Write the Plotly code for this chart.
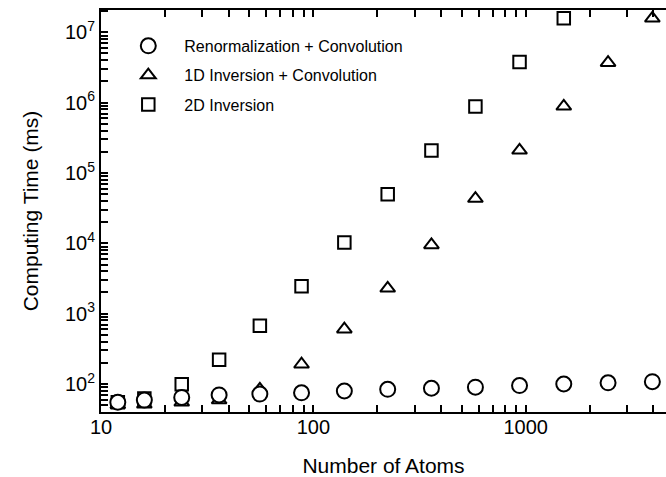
import math
import plotly.graph_objects as go

# Number of atoms in each system
atoms = [12, 16, 24, 36, 56, 88, 140, 224, 360, 580, 936, 1512, 2444, 3952]

# Computing time (ms) for each method
renorm_conv = [55, 59, 64.5, 70, 72, 75, 79.5, 84, 87, 90, 95, 100, 104, 108]
inv1d_conv = [50.7, 51.5, 55, 59, 84, 191, 601, 2290, 9500, 43200, 210000, 885000, 3.70e6, 1.58e7]
inv2d = [55, 62, 99, 222, 675, 2460, 10300, 49700, 208000, 881000, 3.78e6, 1.58e7]

FONT = "Liberation Sans, Arial, sans-serif"
X_RANGE = [1, 3.661]
Y_RANGE = [1.602, 7.317]


def log_ticks(lo, hi, label):
    """Tick positions at m x 10^k inside [10^lo, 10^hi]; only decades get a label."""
    vals, text = [], []
    for k in range(math.floor(lo), math.ceil(hi) + 1):
        for m in range(1, 10):
            v = m * 10 ** k
            if 10 ** lo <= v <= 10 ** hi:
                vals.append(v)
                text.append(label(k) if m == 1 else "")
    return vals, text


x_vals, x_text = log_ticks(*X_RANGE, label=lambda k: str(10 ** k))
y_vals, y_text = log_ticks(*Y_RANGE, label=lambda k: f"10<sup>{k}</sup>")

fig = go.Figure()

# squares first, circles last so they sit on top; legendrank keeps the key order
fig.add_trace(go.Scatter(
    x=atoms[:len(inv2d)], y=inv2d, mode="markers", name="2D Inversion",
    legendgroup="c", legendrank=3,
    marker=dict(symbol="square", size=12.5, color="white",
                line=dict(color="black", width=2)),
))
fig.add_trace(go.Scatter(
    x=atoms, y=inv1d_conv, mode="markers", name="1D Inversion + Convolution",
    legendgroup="b", legendrank=2,
    marker=dict(symbol="triangle-up", size=13, color="white",
                line=dict(color="black", width=2)),
))
fig.add_trace(go.Scatter(
    x=atoms, y=renorm_conv, mode="markers", name="Renormalization + Convolution",
    legendgroup="a", legendrank=1,
    marker=dict(symbol="circle", size=15, color="white",
                line=dict(color="black", width=2)),
))

fig.update_layout(
    width=666, height=477,
    margin=dict(l=101, r=0, t=10, b=65),
    plot_bgcolor="white", paper_bgcolor="white",
    font=dict(family=FONT, color="black"),
    showlegend=True,
    legend=dict(
        x=0.02, y=0.953, xanchor="left", yanchor="top",
        traceorder="grouped", tracegroupgap=5.5, itemwidth=62,
        font=dict(family=FONT, size=16, color="black"),
        bgcolor="rgba(0,0,0,0)", borderwidth=0,
    ),
    xaxis=dict(
        type="log", range=X_RANGE,
        tickmode="array", tickvals=x_vals, ticktext=x_text,
        showline=True, linecolor="black", linewidth=2, mirror="allticks",
        ticks="inside", ticklen=7, tickwidth=2, tickcolor="black",
        showgrid=False, zeroline=False,
        tickfont=dict(family=FONT, size=20), ticklabelstandoff=-4,
        title=dict(text="Number of Atoms", font=dict(family=FONT, size=21),
                   standoff=21),
    ),
    yaxis=dict(
        type="log", range=Y_RANGE,
        tickmode="array", tickvals=y_vals, ticktext=y_text,
        showline=True, linecolor="black", linewidth=2,
        ticks="inside", ticklen=7, tickwidth=2, tickcolor="black",
        showgrid=False, zeroline=False,
        tickfont=dict(family=FONT, size=20), ticklabelstandoff=0,
        title=dict(text="Computing Time (ms)", font=dict(family=FONT, size=21),
                   standoff=21),
    ),
)

fig.write_html("out.html")
